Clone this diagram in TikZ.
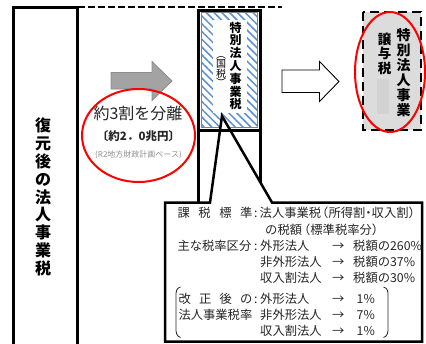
\documentclass[tikz,border=0pt]{standalone}
\usepackage{fontspec}
\setmainfont{Noto Sans CJK JP}
\usetikzlibrary{patterns.meta}
\definecolor{hatchblue}{HTML}{5B8FD6}
\definecolor{boxgray}{HTML}{DCDCDC}
\definecolor{blockgray}{HTML}{D2D2D2}
\definecolor{arrowgray}{HTML}{A3A3A3}
\definecolor{arrowedge}{HTML}{8C8C8C}
\definecolor{txt}{HTML}{262626}
\definecolor{note}{HTML}{8F8F8F}
\newcommand{\fsz}[2]{\fontsize{#1}{#2}\selectfont}
\begin{document}
\begin{tikzpicture}[x=1pt,y=-1pt,
  heavy/.style={line width=3pt},
  vstack/.style={align=center, inner sep=0pt, text=black},
  ctext/.style={anchor=base west, inner sep=0pt, font=\fsz{12.3}{14}, text=txt},
  redring/.style={draw=red, line width=2pt},
]
\useasboundingbox (0,0) rectangle (426,343);

% top dashed line
\coordinate (dl) at (78,6.5);
\coordinate (dr) at (282,6.5);
\draw[line width=2pt, dash pattern=on 6.5pt off 3.5pt] (dl) -- (dr);

% left box
\draw[heavy, fill=white] (13.5,7.5) rectangle (77.5,360);
\node[vstack, font=\fsz{16}{17.9}\bfseries] (lefttext) at (43,197) {復\\元\\後\\の\\法\\人\\事\\業\\税};

% middle column
\draw[heavy, fill=white] (198.5,10) rectangle (260,215);
\fill[pattern={Lines[angle=-45,distance=5.5pt,line width=1.5pt]}, pattern color=hatchblue] (201.5,12.5) rectangle (257,127);
\draw[gray, line width=0.6pt] (201.5,12.5) rectangle (257,127);
\fill[white] (213,20) rectangle (247,113);
\node[vstack, font=\fsz{12}{12.8}\bfseries] (kokuzei) at (235.5,66) {特\\別\\法\\人\\事\\業\\税};
\node[vstack, font=\fsz{10}{9.5}] (kokuzeip) at (221,71.5) {︵\\国\\税\\︶};

% callout
\coordinate (tip) at (222,116);
\draw[line width=2.5pt, fill=white, line join=miter] (165,202.5) -- (210,202.5) -- (tip) -- (272,202.5) -- (422,202.5) -- (422,341.5) -- (165,341.5) -- cycle;
\draw[heavy] (198.5,130.5) -- (260,130.5);

% callout text
\node[ctext] (k1) at (177.3,217.5) {\hbox to 75pt{課\hfill 税\hfill 標\hfill 準}};
\node[ctext] (c1) at (254,217.5) {:};
\node[ctext] (v1) at (259.5,217.5) {法人事業税\kern-5pt（所得割\kern-3pt・\kern-3pt収入割）};
\node[ctext] (v2) at (265,234.5) {の税額\kern-4pt（標準税率分）};
\node[ctext] (k3) at (177.3,250.5) {主な税率区分};
\node[ctext] (c3) at (254,250.5) {:};
\node[ctext] (v3) at (260,250.5) {外形法人};
\node[ctext] (a3) at (332,250.5) {→};
\node[ctext] (r3) at (353,250.5) {税額の260\%};
\node[ctext] (v4) at (260,266) {非外形法人};
\node[ctext] (a4) at (332,266) {→};
\node[ctext] (r4) at (353,266) {税額の37\%};
\node[ctext] (v5) at (260,282) {収入割法人};
\node[ctext] (a5) at (332,282) {→};
\node[ctext] (r5) at (353,282) {税額の30\%};
\node[ctext] (k6) at (178.3,303.5) {\hbox to 74pt{改\hfill 正\hfill 後\hfill の}};
\node[ctext] (c6) at (254,303.5) {:};
\node[ctext] (v6) at (260,303.5) {外形法人};
\node[ctext] (a6) at (332,303.5) {→};
\node[ctext] (r6) at (356.5,303.5) {1\%};
\node[ctext] (k7) at (178.3,319.5) {法人事業税率};
\node[ctext] (v7) at (260,319.5) {非外形法人};
\node[ctext] (a7) at (332,319.5) {→};
\node[ctext] (r7) at (356.5,319.5) {7\%};
\node[ctext] (v8) at (260,335.5) {収入割法人};
\node[ctext] (a8) at (332,335.5) {→};
\node[ctext] (r8) at (356.5,335.5) {1\%};
\draw[txt, line width=0.8pt] (180.5,287) .. controls (176,288) and (176,292) .. (176,296) -- (176,328) .. controls (176,332) and (176,336) .. (180.5,337.5);
\draw[txt, line width=0.8pt] (383.5,287) .. controls (388,288) and (388,292) .. (388,296) -- (388,328) .. controls (388,332) and (388,336) .. (383.5,337.5);

% gray arrow
\draw[fill=arrowgray, draw=arrowedge, line width=0.8pt] (111,72.5) -- (152,72.5) -- (152,61.5) -- (172,81) -- (152,100.5) -- (152,89) -- (111,89) -- cycle;

% left red ellipse and texts
\draw[redring] (138.5,135.5) ellipse [x radius=56.5, y radius=46.5];
\node[inner sep=0pt, font=\fsz{16}{16}, text=txt] (sep) at (138,113.5) {約3割を分離};
\node[inner sep=0pt, font=\fsz{11.5}{11.5}\bfseries, text=txt] (amount) at (138.5,136) {〔約2．0兆円〕};
\node[inner sep=0pt, font=\fsz{8}{8}, text=note] (basis) at (138.5,155) {(R2地方財政計画ベース)};

% hollow arrow
\draw[fill=white, line width=0.9pt] (282,70) -- (319.5,70) -- (319.5,61.5) -- (339,81.5) -- (319.5,101.5) -- (319.5,92.5) -- (282,92.5) -- cycle;

% right dashed box
\draw[fill=boxgray, line width=2.8pt, dash pattern=on 9pt off 5pt] (363,12) rectangle (421,130);
\fill[blockgray] (376.5,79) rectangle (389,114);
\node[vstack, font=\fsz{14}{15}\bfseries] (jouyo1) at (403.5,72.5) {特\\別\\法\\人\\事\\業};
\node[vstack, font=\fsz{13.5}{14.5}\bfseries] (jouyo2) at (384.5,53.5) {譲\\与\\税};
\draw[redring] (390,72) ellipse [x radius=35, y radius=60];
\end{tikzpicture}
\end{document}
